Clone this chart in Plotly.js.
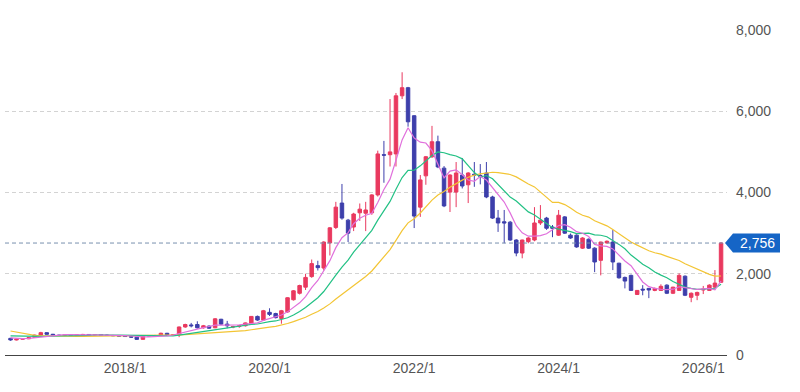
<!DOCTYPE html>
<html>
<head>
<meta charset="utf-8">
<script src="https://cdn.plot.ly/plotly-3.0.1.min.js"></script>
<style>html,body{margin:0;padding:0;background:#fff;}#chart{width:800px;height:392px;}</style>
</head>
<body>
<div id="chart"></div>
<script>
// Monthly candles, 2016/6 .. 2026/4
const months = [
 '2016-06','2016-07','2016-08','2016-09','2016-10','2016-11','2016-12',
 '2017-01','2017-02','2017-03','2017-04','2017-05','2017-06','2017-07','2017-08','2017-09','2017-10','2017-11','2017-12',
 '2018-01','2018-02','2018-03','2018-04','2018-05','2018-06','2018-07','2018-08','2018-09','2018-10','2018-11','2018-12',
 '2019-01','2019-02','2019-03','2019-04','2019-05','2019-06','2019-07','2019-08','2019-09','2019-10','2019-11','2019-12',
 '2020-01','2020-02','2020-03','2020-04','2020-05','2020-06','2020-07','2020-08','2020-09','2020-10','2020-11','2020-12',
 '2021-01','2021-02','2021-03','2021-04','2021-05','2021-06','2021-07','2021-08','2021-09','2021-10','2021-11','2021-12',
 '2022-01','2022-02','2022-03','2022-04','2022-05','2022-06','2022-07','2022-08','2022-09','2022-10','2022-11','2022-12',
 '2023-01','2023-02','2023-03','2023-04','2023-05','2023-06','2023-07','2023-08','2023-09','2023-10','2023-11','2023-12',
 '2024-01','2024-02','2024-03','2024-04','2024-05','2024-06','2024-07','2024-08','2024-09','2024-10','2024-11','2024-12',
 '2025-01','2025-02','2025-03','2025-04','2025-05','2025-06','2025-07','2025-08','2025-09','2025-10','2025-11','2025-12',
 '2026-01','2026-02','2026-03','2026-04'
];
const opens = [410,370,390,400,430,490,550,510,490,480,490,485,500,505,495,500,490,480,475,465,455,440,385,470,475,480,535,490,500,690,740,750,670,710,670,880,760,690,700,720,780,950,860,1050,1020,900,1060,1360,1520,1670,1930,2200,2140,2760,3140,3740,3320,3150,3500,3490,3500,3940,4930,4930,4950,6380,6580,5890,3640,4410,4880,5250,4600,4010,4010,4430,4190,4450,4420,4480,3890,3370,3280,3270,2830,2510,2790,2830,3250,3370,3150,2950,3400,2950,2950,2630,2850,2630,2330,2760,2780,2260,1910,1960,1490,1620,1640,1590,1590,1720,1520,1590,1940,1420,1470,1600,1590,1670,1790];
const highs = [420,400,410,440,500,570,560,520,500,500,505,510,520,515,510,515,505,495,490,480,465,445,480,490,495,550,545,510,700,770,790,830,740,730,910,890,840,720,740,800,960,970,1110,1150,1040,1110,1420,1600,1730,2000,2350,2320,2800,3150,3770,4210,3350,3500,3730,3770,3960,5030,5270,6300,6450,6960,6600,5900,4430,4900,5640,5400,4650,4450,4750,4850,4500,4750,4700,4750,3920,3570,3570,3300,2850,2840,2900,3640,3690,3400,3200,3570,3420,2990,2970,2900,2870,2650,2790,2820,3075,2270,1930,1980,1600,1720,1650,1660,1740,1740,1680,2010,1960,1540,1560,1700,1740,2090,2780];
const lows = [350,360,380,390,420,480,500,480,470,465,470,475,490,490,480,485,475,465,455,445,420,370,380,455,460,475,480,470,440,670,680,650,650,640,660,740,660,660,670,700,760,840,850,960,900,770,1040,1340,1490,1600,1900,2080,2080,2450,3100,3330,2780,3050,3300,3050,3450,3900,4240,4640,4640,6300,5620,3125,3400,4190,4850,4600,3640,3520,3640,4100,3740,4140,4200,3860,3350,3030,2750,2810,2430,2380,2750,2800,3200,3080,2900,2930,2980,2860,2640,2610,2610,2040,1960,2740,2090,1880,1640,1580,1480,1470,1400,1570,1580,1500,1500,1580,1450,1300,1350,1500,1580,1650,1780];
const closes = [370,390,400,430,490,550,510,490,480,490,485,500,505,495,500,490,480,475,465,455,440,385,470,475,480,535,490,500,690,750,720,670,720,660,890,760,720,700,720,790,950,860,1090,1000,920,1090,1410,1580,1710,1910,2250,2150,2780,3130,3640,3370,3000,3470,3590,3570,3940,4950,4920,5000,6380,6580,5740,3420,4310,4880,5250,4630,3670,4430,4480,4160,4480,4430,4400,3890,3370,3250,3250,2830,2510,2830,2880,3250,3320,3120,3120,3440,3000,2880,2660,2880,2630,2290,2780,2800,2290,1900,1820,1590,1590,1600,1600,1640,1690,1520,1670,1960,1470,1520,1540,1620,1720,1770,2756];

// Moving-average lines (short / mid / long)
const maShort = [420,410,405,410,425,438,462,478,492,502,501,493,492,493,496,496,495,491,484,478,468,450,448,448,451,464,473,492,528,574,614,637,675,702,735,737,737,742,742,763,773,790,852,902,935,985,1062,1182,1285,1437,1658,1835,2063,2322,2643,2887,3012,3232,3367,3440,3490,3753,4073,4328,4793,5295,5595,5340,5238,5218,5030,4705,4360,4528,4557,4437,4308,4275,4397,4307,4122,3970,3765,3498,3183,3007,2925,2925,2937,2985,3087,3188,3208,3147,3037,2997,2915,2723,2687,2673,2612,2448,2313,2197,1998,1798,1683,1640,1618,1607,1620,1680,1658,1638,1613,1630,1638,1607,1821];
const maMid = [470,465,460,455,455,458,462,465,468,470,470,465,477,485,494,499,498,492,488,485,482,473,472,470,468,471,470,471,488,511,533,550,574,597,632,655,675,689,708,733,754,763,794,822,838,874,918,986,1068,1169,1297,1410,1563,1752,1964,2162,2335,2533,2715,2881,3067,3320,3543,3780,4080,4368,4543,4547,4656,4773,4912,5000,4978,4934,4898,4828,4669,4490,4378,4418,4339,4203,4037,3887,3790,3657,3523,3448,3351,3242,3135,3098,3067,3036,2987,2991,3001,2956,2948,2910,2824,2723,2614,2460,2343,2236,2148,2044,1966,1902,1809,1739,1671,1639,1616,1618,1629,1643,1740];
const maLong = [590,560,530,505,485,475,470,465,462,460,460,460,460,462,463,464,465,466,466,467,467,467,468,468,472,478,482,485,493,501,510,518,528,535,552,563,571,580,589,602,621,637,663,686,706,735,775,821,872,929,1003,1071,1158,1258,1379,1492,1587,1704,1816,1933,2068,2245,2420,2595,2821,3060,3253,3354,3495,3653,3813,3940,4022,4127,4220,4304,4375,4429,4460,4482,4498,4488,4474,4443,4384,4295,4210,4138,4010,3866,3757,3758,3703,3620,3512,3439,3395,3306,3235,3179,3088,2982,2875,2779,2705,2636,2567,2518,2483,2429,2378,2325,2248,2181,2115,2039,1986,1940,1944];

const xTickVals = ['2018-01-01','2020-01-01','2022-01-01','2024-01-01','2026-01-01'];
const xTickText = ['2018/1','2020/1','2022/1','2024/1','2026/1'];
const yTickVals = [0,2000,4000,6000,8000];
const lastPrice = 2756;

const UP = '#e9395f', DOWN = '#3d3fab';
const FONT = 'Arial, "Liberation Sans", sans-serif';

const traces = [
  {
    type:'candlestick', x:months, open:opens, high:highs, low:lows, close:closes,
    increasing:{line:{color:UP,width:1}, fillcolor:UP},
    decreasing:{line:{color:DOWN,width:1}, fillcolor:DOWN},
    whiskerwidth:0, hoverinfo:'skip', showlegend:false
  },
  {type:'scatter', mode:'lines', x:months, y:maLong, line:{color:'#f3c534',width:1.2}, hoverinfo:'skip'},
  {type:'scatter', mode:'lines', x:months, y:maMid, line:{color:'#22c184',width:1.2}, hoverinfo:'skip'},
  {type:'scatter', mode:'lines', x:months, y:maShort, line:{color:'#e070dc',width:1.2}, hoverinfo:'skip'}
];

const layout = {
  width:800, height:392,
  margin:{l:5, r:73, t:30, b:37},
  paper_bgcolor:'#ffffff', plot_bgcolor:'#ffffff',
  showlegend:false,
  boxgap:0.1,
  font:{family:FONT, color:'#555', size:14},
  xaxis:{
    type:'date', range:['2016-05-04','2026-05-01'],
    tickmode:'array', tickvals:xTickVals, ticktext:xTickText,
    showgrid:false, zeroline:false, showline:true, linecolor:'#444', linewidth:1,
    ticks:'', tickfont:{family:FONT, size:14, color:'#555'},
    rangeslider:{visible:false}, fixedrange:true
  },
  yaxis:{
    side:'right', range:[0,8000], tickmode:'array', tickvals:yTickVals, tickformat:',d',
    showgrid:true, gridcolor:'#d3d3d3', gridwidth:1, griddash:'4px,3px',
    zeroline:false, showline:false, ticks:'', ticklabelstandoff:8,
    tickfont:{family:FONT, size:14, color:'#555'}, fixedrange:true
  },
  shapes:[
    {type:'line', xref:'paper', x0:0, x1:1, yref:'y', y0:lastPrice, y1:lastPrice,
     line:{color:'#7890ae', width:1, dash:'4px,3px'}},
    {type:'path', xref:'paper', xsizemode:'pixel', xanchor:1, yref:'y', ysizemode:'pixel', yanchor:lastPrice,
     path:'M -2 0 L 6 -9.5 L 53 -9.5 L 53 9.5 L 6 9.5 Z', fillcolor:'#1565c6', line:{width:0}}
  ],
  annotations:[
    {xref:'paper', x:1, xanchor:'center', xshift:30, yref:'y', y:lastPrice, yanchor:'middle',
     text:lastPrice.toLocaleString('en-US'), showarrow:false, font:{family:FONT, color:'#ffffff', size:14}}
  ]
};

Plotly.newPlot('chart', traces, layout, {staticPlot:true, displayModeBar:false});
</script>
</body>
</html>
